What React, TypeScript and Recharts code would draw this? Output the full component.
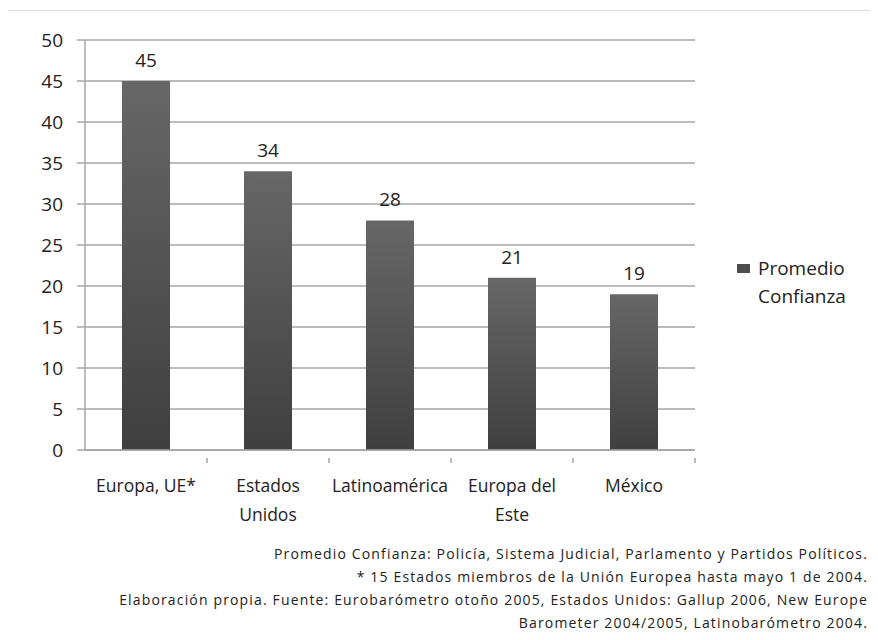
import { BarChart, Bar, XAxis, YAxis, CartesianGrid, LabelList, Legend } from "recharts"

const regiones = ["Europa, UE*", "Estados Unidos", "Latinoamérica", "Europa del Este", "México"]
const confianza = [45, 34, 28, 21, 19]
const yTicks = [0, 5, 10, 15, 20, 25, 30, 35, 40, 45, 50]
const notas = [
    "Promedio Confianza: Policía, Sistema Judicial, Parlamento y Partidos Políticos.",
    "* 15 Estados miembros de la Unión Europea hasta mayo 1 de 2004.",
    "Elaboración propia. Fuente: Eurobarómetro otoño 2005, Estados Unidos: Gallup 2006, New Europe",
    "Barometer 2004/2005, Latinobarómetro 2004.",
]

// category names split the way they wrap under each bar
const tickLines: Record<string, string[]> = {
    "Europa, UE*": ["Europa, UE*"],
    "Estados Unidos": ["Estados", "Unidos"],
    "Latinoamérica": ["Latinoamérica"],
    "Europa del Este": ["Europa del", "Este"],
    "México": ["México"],
}

const data = regiones.map((region, i) => ({ region, confianza: confianza[i] }))

const FONT = "'Open Sans', sans-serif"
const BAND = 122

function CategoryTick(props: any) {
    const { x, y, payload } = props
    const lines = tickLines[payload.value] ?? [payload.value]
    return (
        <g>
            <line x1={x + BAND / 2} x2={x + BAND / 2} y1={y} y2={y + 5} stroke="#a6a6a6" strokeWidth={1.5} />
            <text x={x} y={y + 29} dominantBaseline="middle" textAnchor="middle" fill="#222" fontSize={17.5} fontFamily={FONT}>
                {lines.map((l: string, i: number) => (
                    <tspan key={i} x={x} dy={i === 0 ? 0 : 29}>{l}</tspan>
                ))}
            </text>
        </g>
    )
}

function LegendBox() {
    return (
        <div style={{ display: "flex", fontFamily: FONT, fontSize: 19, color: "#222", lineHeight: "28px", textAlign: "left" }}>
            <div style={{ width: 13, height: 9, background: "#4d4d4d", marginTop: 10, marginRight: 8 }} />
            <div>
                Promedio
                <br />
                Confianza
            </div>
        </div>
    )
}

export default function App() {
    return (
        <div
            style={{
                position: "relative",
                width: 871,
                height: 629,
                margin: "2px 0 0 -2px",
                overflow: "hidden",
                borderLeft: "1px solid #dcdcdc",
                borderTop: "1px solid #dcdcdc",
                background: "#fff",
            }}
        >
            <BarChart width={860} height={600} data={data} margin={{ top: 29, right: 172, left: 28, bottom: 101 }}>
                <defs>
                    <linearGradient id="barFill" x1="0" y1="0" x2="0" y2="1">
                        <stop offset="0%" stopColor="#676767" />
                        <stop offset="100%" stopColor="#3f3f3f" />
                    </linearGradient>
                </defs>
                <CartesianGrid vertical={false} stroke="#a6a6a6" strokeWidth={1.5} />
                <YAxis
                    width={50}
                    domain={[0, 50]}
                    ticks={yTicks}
                    interval={0}
                    axisLine={{ stroke: "#a6a6a6", strokeWidth: 1.5 }}
                    tickLine={{ stroke: "#a6a6a6", strokeWidth: 1.5 }}
                    tickSize={8}
                    tickMargin={14}
                    tick={{ fill: "#222", fontSize: 19, fontFamily: FONT }}
                />
                <XAxis
                    dataKey="region"
                    height={60}
                    interval={0}
                    axisLine={{ stroke: "#a6a6a6", strokeWidth: 1.5 }}
                    tickLine={false}
                    tick={<CategoryTick />}
                />
                <Legend
                    layout="horizontal"
                    verticalAlign="middle"
                    align="center"
                    content={<LegendBox />}
                    wrapperStyle={{ position: "absolute", left: 730, top: 243, width: 130 }}
                />
                <Bar dataKey="confianza" name="Promedio Confianza" fill="url(#barFill)" barSize={48} isAnimationActive={false}>
                    <LabelList dataKey="confianza" position="top" offset={14} fill="#222" fontSize={19} fontFamily={FONT} />
                </Bar>
            </BarChart>
            <div
                style={{
                    position: "absolute",
                    right: 10,
                    top: 531,
                    textAlign: "right",
                    fontFamily: FONT,
                    fontSize: 14,
                    letterSpacing: 1.15,
                    lineHeight: "23px",
                    color: "#222",
                    whiteSpace: "nowrap",
                }}
            >
                {notas.map((n, i) => (
                    <div key={i}>{n}</div>
                ))}
            </div>
        </div>
    )
}
